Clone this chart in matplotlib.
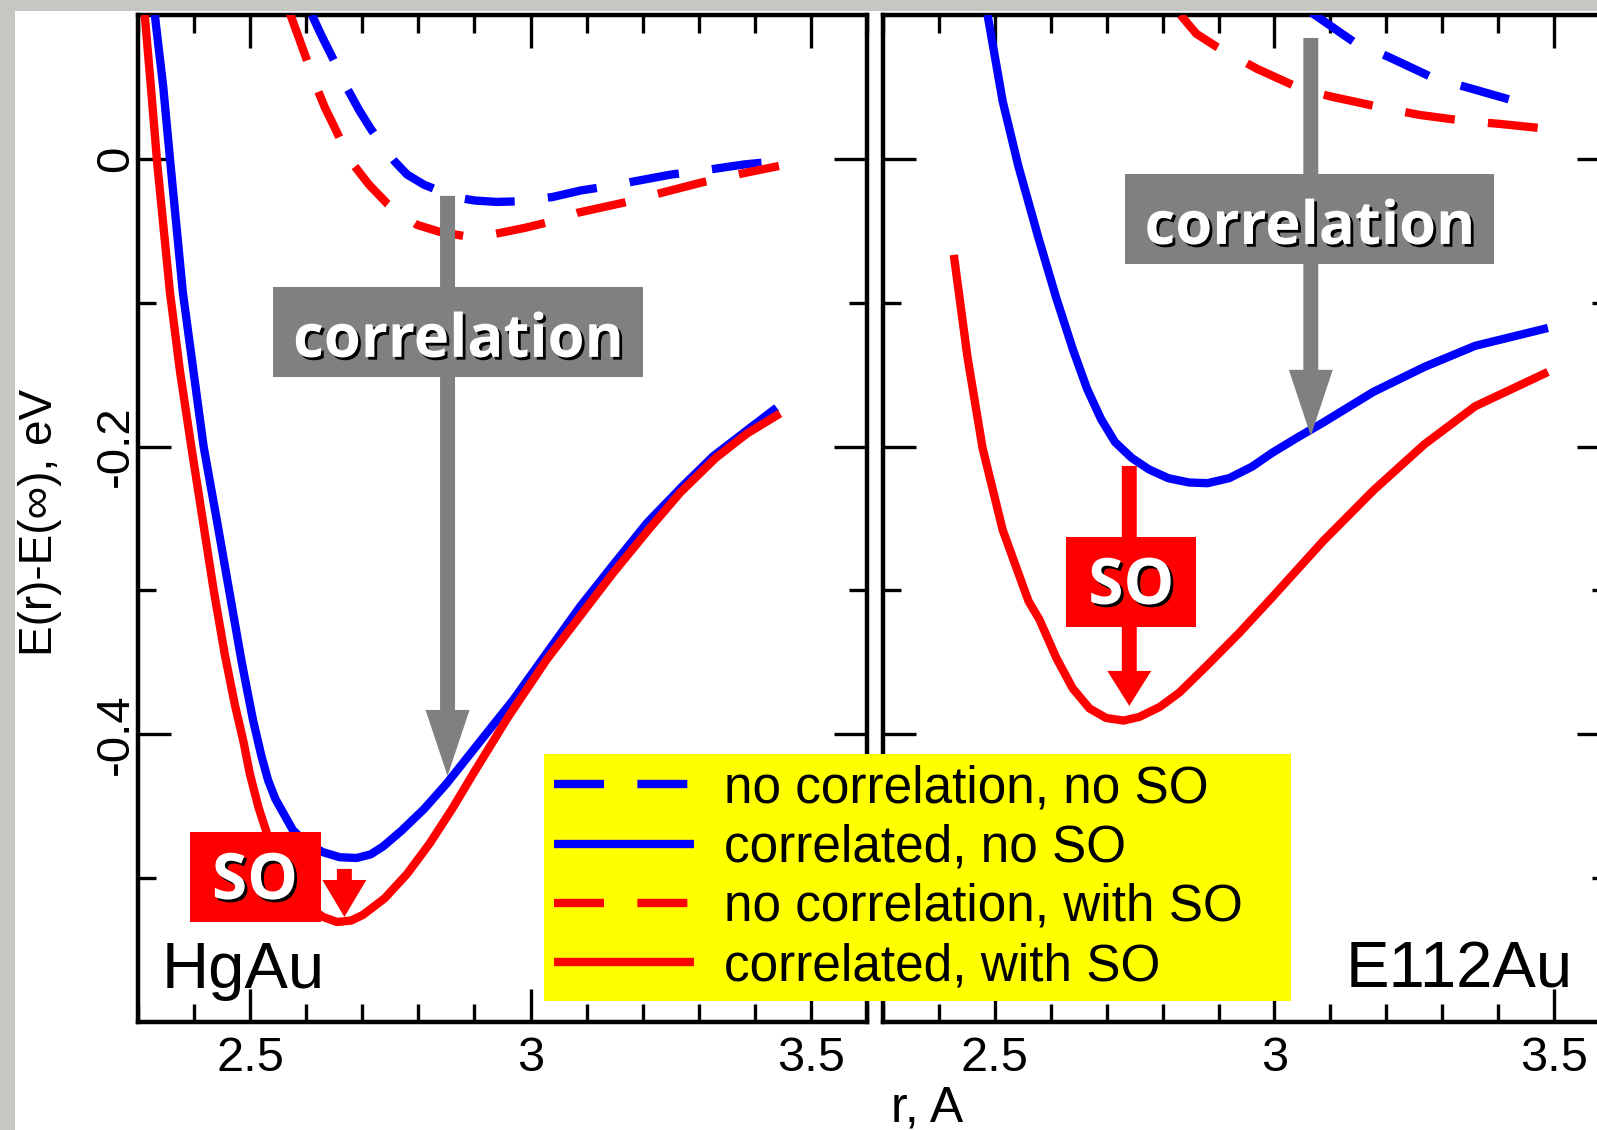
import matplotlib.pyplot as plt
import matplotlib.patheffects as pe
from matplotlib.patches import Rectangle, FancyArrow
from matplotlib.ticker import FixedLocator, MultipleLocator, FuncFormatter

plt.rcParams['font.family'] = ['Liberation Sans', 'DejaVu Sans']
plt.rcParams['axes.unicode_minus'] = False

# ---- HgAu (left panel), r in A, E in eV ----
hg_r_nc_noso = [2.61, 2.628, 2.646, 2.66, 2.673, 2.694, 2.714, 2.736, 2.758, 2.78, 2.81, 2.842, 2.87, 2.9,
                2.94, 2.985, 3.04, 3.09, 3.14, 3.181, 3.25, 3.31, 3.38, 3.443]
hg_e_nc_noso = [0.1, 0.085, 0.071, 0.06, 0.049, 0.034, 0.0215, 0.009, -0.002, -0.011, -0.018, -0.023, -0.027, -0.029,
                -0.03, -0.0295, -0.0265, -0.022, -0.019, -0.016, -0.011, -0.008, -0.004, -0.0015]
hg_r_c_noso = [2.33, 2.345, 2.357, 2.38, 2.417, 2.44, 2.4625, 2.485, 2.505, 2.52, 2.532, 2.545, 2.559, 2.576,
               2.6, 2.63, 2.66, 2.69, 2.715, 2.737, 2.77, 2.81, 2.851, 2.91, 2.969, 3.03, 3.088, 3.15, 3.208,
               3.27, 3.325, 3.385, 3.439]
hg_e_c_noso = [0.1, 0.05, 0.0, -0.093, -0.2, -0.25, -0.3, -0.35, -0.39, -0.415, -0.432, -0.445, -0.4547, -0.4665,
               -0.4755, -0.482, -0.4855, -0.486, -0.4835, -0.478, -0.467, -0.452, -0.434, -0.405, -0.3762, -0.343,
               -0.3115, -0.281, -0.253, -0.228, -0.207, -0.189, -0.173]
hg_r_nc_so = [2.571, 2.585, 2.598, 2.616, 2.634, 2.651, 2.666, 2.682, 2.712, 2.744, 2.77, 2.798, 2.84, 2.887,
              2.92, 2.946, 2.99, 3.026, 3.083, 3.172, 3.24, 3.31, 3.38, 3.443]
hg_e_nc_so = [0.101, 0.086, 0.072, 0.052, 0.035, 0.0215, 0.009, -0.003, -0.018, -0.031, -0.039, -0.046, -0.051,
              -0.054, -0.0535, -0.0515, -0.048, -0.0446, -0.0376, -0.03, -0.023, -0.016, -0.01, -0.005]
hg_r_c_so = [2.312, 2.323, 2.334, 2.357, 2.375, 2.395, 2.415, 2.435, 2.455, 2.473, 2.488, 2.4997, 2.515, 2.53,
             2.55, 2.571, 2.6, 2.63, 2.655, 2.68, 2.701, 2.74, 2.78, 2.82, 2.86, 2.9, 2.96, 3.029, 3.09, 3.147,
             3.21, 3.267, 3.33, 3.386, 3.445]
hg_e_c_so = [0.1, 0.05, -0.002, -0.093, -0.148, -0.2, -0.25, -0.3, -0.345, -0.38, -0.405, -0.428, -0.451, -0.469,
             -0.489, -0.505, -0.519, -0.527, -0.5305, -0.5295, -0.5256, -0.514, -0.497, -0.476, -0.452, -0.426,
             -0.388, -0.348, -0.317, -0.288, -0.258, -0.232, -0.208, -0.191, -0.177]

# ---- E112Au (right panel) ----
e1_r_nc_noso = [3.067, 3.142, 3.204, 3.284, 3.341, 3.423]
e1_e_nc_noso = [0.1014, 0.0812, 0.0708, 0.0562, 0.05, 0.0409]
e1_r_c_noso = [2.487, 2.514, 2.542, 2.578, 2.61, 2.64, 2.665, 2.69, 2.715, 2.745, 2.776, 2.81, 2.847, 2.88,
               2.919, 2.96, 2.9955, 3.04, 3.086, 3.177, 3.268, 3.359, 3.489]
e1_e_c_noso = [0.1, 0.04, -0.005, -0.055, -0.097, -0.133, -0.16, -0.181, -0.197, -0.208, -0.216, -0.222, -0.225,
               -0.2255, -0.222, -0.214, -0.2045, -0.194, -0.1836, -0.162, -0.1447, -0.13, -0.1176]
e1_r_nc_so = [2.832, 2.86, 2.896, 2.969, 3.051, 3.104, 3.195, 3.259, 3.341, 3.404, 3.472]
e1_e_nc_so = [0.1, 0.087, 0.078, 0.0625, 0.048, 0.043, 0.0354, 0.0305, 0.0263, 0.0242, 0.0215]
e1_r_c_so = [2.4266, 2.4509, 2.478, 2.514, 2.56, 2.58, 2.61, 2.639, 2.669, 2.699, 2.73, 2.758, 2.795, 2.83, 2.88,
             2.937, 2.9955, 3.0864, 3.177, 3.268, 3.359, 3.489]
e1_e_c_so = [-0.0668, -0.1374, -0.201, -0.258, -0.3073, -0.3205, -0.347, -0.368, -0.382, -0.3887, -0.3905, -0.388,
             -0.381, -0.371, -0.352, -0.3296, -0.305, -0.266, -0.2305, -0.1985, -0.172, -0.1482]

labels = ['no correlation, no SO', 'correlated, no SO', 'no correlation, with SO', 'correlated, with SO']
BLUE, RED, GRAY = '#0000ff', '#ff0000', '#808080'
dash = (0, (6, 4))

fig = plt.figure(figsize=(15.97, 11.3), dpi=100, facecolor='#c6c6c2')
fig.add_artist(Rectangle((15 / 1597, 0), 1, 1 - 11 / 1130, transform=fig.transFigure,
                         facecolor='white', edgecolor='none', zorder=-10))

ax1 = fig.add_axes([138 / 1597, 0.0956, 729 / 1597, 0.8912])
ax2 = fig.add_axes([883 / 1597, 0.0956, 727 / 1597, 0.8912])


def setup(ax, ylabels):
    ax.set_xlim(2.3, 3.6)
    ax.set_ylim(-0.6, 0.1)
    ax.xaxis.set_major_locator(FixedLocator([2.5, 3.0, 3.5]))
    ax.xaxis.set_minor_locator(MultipleLocator(0.1))
    ax.yaxis.set_major_locator(FixedLocator([-0.4, -0.2, 0.0]))
    ax.yaxis.set_minor_locator(FixedLocator([-0.5, -0.3, -0.1]))
    ax.xaxis.set_major_formatter(FuncFormatter(lambda v, p: '%g' % v))
    ax.yaxis.set_major_formatter(FuncFormatter(lambda v, p: '%g' % v))
    ax.tick_params(which='both', direction='in', top=True, right=True, width=2.4, color='black')
    ax.tick_params(which='major', length=24)
    ax.tick_params(which='minor', length=13)
    ax.tick_params(axis='x', labelsize=35, pad=10)
    ax.tick_params(axis='y', labelsize=34, pad=0, labelleft=ylabels)
    for s in ax.spines.values():
        s.set_linewidth(3.2)
    if ylabels:
        plt.setp(ax.get_yticklabels(), rotation=90, va='center')


def curves(ax, data):
    lines = []
    for (r, e), col, ls in zip(data, [BLUE, BLUE, RED, RED], [dash, '-', dash, '-']):
        ln, = ax.plot(r, e, color=col, lw=6, ls=ls, solid_capstyle='butt', dash_capstyle='butt',
                      solid_joinstyle='round', zorder=3)
        lines.append(ln)
    return lines


def arrow(ax, x, ytop, ytip, hl, col):
    ax.add_patch(FancyArrow(x, ytop, 0, ytip - ytop, width=0.0267, head_width=0.0785, head_length=hl,
                            length_includes_head=True, facecolor=col, edgecolor='none', zorder=5))


def tag(ax, x0, x1, y0, y1, txt, xt, yt, col, size=43):
    ax.add_patch(Rectangle((x0, y1), x1 - x0, y0 - y1, facecolor=col, edgecolor='none', zorder=6))
    ax.text(xt, yt, txt, ha='center', va='baseline', color='white', fontsize=size,
            family=['Open Sans', 'DejaVu Sans'], weight='bold', zorder=7,
            path_effects=[pe.SimplePatchShadow(offset=(2, -2), shadow_rgbFace='black', alpha=1.0), pe.Normal()])


for ax, yl in [(ax1, True), (ax2, False)]:
    setup(ax, yl)

handles = curves(ax1, [(hg_r_nc_noso, hg_e_nc_noso), (hg_r_c_noso, hg_e_c_noso),
                       (hg_r_nc_so, hg_e_nc_so), (hg_r_c_so, hg_e_c_so)])
curves(ax2, [(e1_r_nc_noso, e1_e_nc_noso), (e1_r_c_noso, e1_e_c_noso),
             (e1_r_nc_so, e1_e_nc_so), (e1_r_c_so, e1_e_c_so)])

# arrows and boxes
arrow(ax1, 2.852, -0.0258, -0.429, 0.0459, GRAY)
tag(ax1, 2.541, 3.2005, -0.089, -0.1516, 'correlation', 2.871, -0.1377, GRAY)
arrow(ax1, 2.668, -0.4936, -0.527, 0.0257, RED)
tag(ax1, 2.393, 2.626, -0.468, -0.5305, 'SO', 2.5086, -0.5145, RED, 46)

arrow(ax2, 3.065, 0.084, -0.1926, 0.0459, GRAY)
tag(ax2, 2.733, 3.393, -0.0105, -0.0731, 'correlation', 3.063, -0.0592, GRAY)
arrow(ax2, 2.7404, -0.2135, -0.3803, 0.0243, RED)
tag(ax2, 2.628, 2.860, -0.2629, -0.3254, 'SO', 2.744, -0.3094, RED, 46)

ax1.text(0.032, 0.034, 'HgAu', transform=ax1.transAxes, fontsize=47, va='baseline', ha='left')
ax2.text(0.637, 0.034, 'E112Au', transform=ax2.transAxes, fontsize=47, va='baseline', ha='left')

fig.text(40 / 1597, 1 - 522 / 1130, 'E(r)-E(\u221e), eV', rotation=90, ha='center', va='center', fontsize=33)
fig.text(927 / 1597, 1 - 1122 / 1130, 'r, A', ha='center', va='baseline', fontsize=36)

leg = fig.legend(handles, labels, loc='upper left', bbox_to_anchor=(544 / 1597, 0.0, 747 / 1597, 1 - 754 / 1130),
                 mode='expand', borderaxespad=0, fontsize=37, handlelength=2.72, handletextpad=0.58,
                 labelspacing=0.2, borderpad=0.2, fancybox=False, framealpha=1)
leg.get_frame().set_facecolor('#ffff00')
leg.get_frame().set_edgecolor('none')

fig.savefig('out.png', dpi=100, facecolor=fig.get_facecolor())
